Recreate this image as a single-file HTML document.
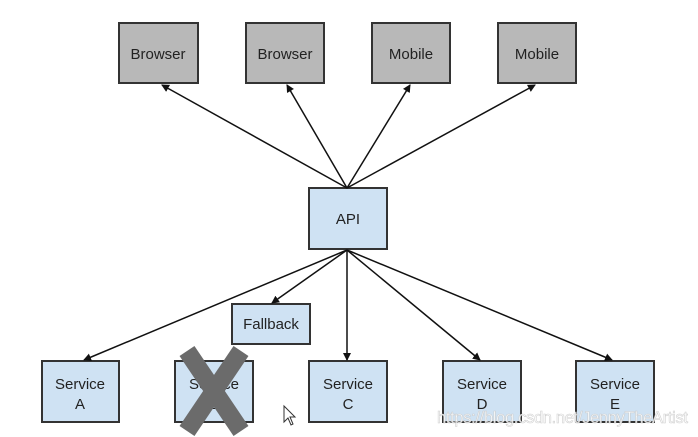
<!DOCTYPE html>
<html><head><meta charset="utf-8"><style>
html,body{margin:0;padding:0;background:#fff;}
body{width:698px;height:437px;overflow:hidden;position:relative;font-family:"Liberation Sans",sans-serif;}
</style></head><body>
<svg width="698" height="437" xmlns="http://www.w3.org/2000/svg" style="position:absolute;left:0;top:0">
<defs><marker id="a" markerWidth="8" markerHeight="8" refX="7" refY="4" orient="auto" markerUnits="userSpaceOnUse"><path d="M0,0 L8,4 L0,8 z" fill="#111"/></marker></defs>
<g stroke="#333" stroke-width="2">
<rect x="119" y="23" width="79" height="60" fill="#b8b8b8"/>
<rect x="246" y="23" width="78" height="60" fill="#b8b8b8"/>
<rect x="372" y="23" width="78" height="60" fill="#b8b8b8"/>
<rect x="498" y="23" width="78" height="60" fill="#b8b8b8"/>
<rect x="309" y="188" width="78" height="61" fill="#cfe2f3"/>
<rect x="232" y="304" width="78" height="40" fill="#cfe2f3"/>
<rect x="42" y="361" width="77" height="61" fill="#cfe2f3"/>
<rect x="175" y="361" width="78" height="61" fill="#cfe2f3"/>
<rect x="309" y="361" width="78" height="61" fill="#cfe2f3"/>
<rect x="443" y="361" width="78" height="61" fill="#cfe2f3"/>
<rect x="576" y="361" width="78" height="61" fill="#cfe2f3"/>
</g>
<g stroke="#111" stroke-width="1.5" marker-end="url(#a)">
<line x1="347" y1="188" x2="162" y2="85"/>
<line x1="347" y1="188" x2="287" y2="85"/>
<line x1="347" y1="188" x2="410" y2="85"/>
<line x1="347" y1="188" x2="535" y2="85"/>
<line x1="347" y1="250" x2="84" y2="360"/>
<line x1="347" y1="250" x2="272" y2="303"/>
<line x1="347" y1="250" x2="347" y2="360"/>
<line x1="347" y1="250" x2="480" y2="360"/>
<line x1="347" y1="250" x2="612" y2="360"/>
</g>
<g font-family="Liberation Sans, sans-serif" font-size="15" fill="#222" text-anchor="middle">
<text x="158" y="59">Browser</text>
<text x="285" y="59">Browser</text>
<text x="411" y="59">Mobile</text>
<text x="537" y="59">Mobile</text>
<text x="348" y="224">API</text>
<text x="271" y="329">Fallback</text>
<text x="80" y="389">Service</text><text x="80" y="409">A</text>
<text x="214" y="389">Service</text><text x="214" y="409">B</text>
<text x="348" y="389">Service</text><text x="348" y="409">C</text>
<text x="482" y="389">Service</text><text x="482" y="409">D</text>
<text x="615" y="389">Service</text><text x="615" y="409">E</text>
</g>
<g stroke="#6b6b6b" stroke-width="18" stroke-linecap="butt">
<line x1="187" y1="351" x2="241" y2="431"/>
<line x1="241" y1="351" x2="187" y2="431"/>
</g>
<path d="M284,406 L284,422 L288,418 L291,425 L293,424 L290,417 L295,417 z" fill="#fff" stroke="#333" stroke-width="1"/>
<text x="437" y="423" font-family="Liberation Sans, sans-serif" font-size="16.5" fill="#fff" stroke="#ccc" stroke-width="0.6" opacity="0.9" textLength="251">https://blog.csdn.net/JennyTheArtist</text>
</svg>
</body></html>
